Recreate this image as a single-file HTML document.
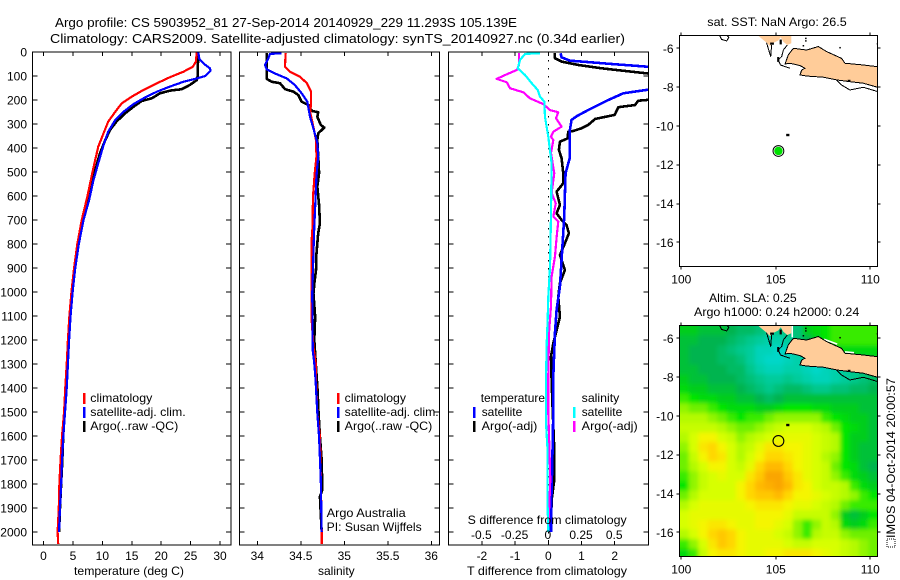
<!DOCTYPE html>
<html>
<head>
<meta charset="utf-8">
<title>Argo profile 5903952_81</title>
<style>
html,body{margin:0;padding:0;background:#fff;width:900px;height:580px;overflow:hidden}
svg{display:block}
text{font-family:"Liberation Sans",sans-serif;font-size:12px;fill:#000}
.t13{font-size:13px}
</style>
</head>
<body>
<svg id="chart" xmlns="http://www.w3.org/2000/svg" width="900" height="580" viewBox="0 0 900 580">
<defs>
<clipPath id="clip-p1"><rect x="32" y="52" width="199" height="493"/></clipPath>
<clipPath id="clip-p2"><rect x="239" y="52" width="200" height="493"/></clipPath>
<clipPath id="clip-p3"><rect x="448" y="52" width="200" height="493"/></clipPath>
<clipPath id="clip-m1"><rect x="679" y="35" width="199" height="232"/></clipPath>
<clipPath id="clip-m2"><rect x="679" y="325" width="199" height="232"/></clipPath>
<filter id="heat-blur" filterUnits="userSpaceOnUse" x="640" y="290" width="260" height="290"><feGaussianBlur stdDeviation="2.2"/></filter>
</defs>
<rect x="0" y="0" width="900" height="580" fill="#fff"/>

<text class="t13" x="55" y="27" textLength="462" lengthAdjust="spacingAndGlyphs">Argo profile: CS 5903952_81 27-Sep-2014 20140929_229 11.293S 105.139E</text>
<text class="t13" x="50" y="43" textLength="575" lengthAdjust="spacingAndGlyphs">Climatology: CARS2009. Satellite-adjusted climatology: synTS_20140927.nc (0.34d earlier)</text>

<g id="p1"></g>
<g id="p2"></g>
<g id="p3"></g>
<g id="m1"></g>
<g id="m2"></g>

<text x="74" y="575" textLength="110" lengthAdjust="spacingAndGlyphs">temperature (deg C)</text>
<text x="318" y="575">salinity</text>
<text x="467.7" y="524" textLength="159" lengthAdjust="spacingAndGlyphs">S difference from climatology</text>
<text x="467" y="575" textLength="160" lengthAdjust="spacingAndGlyphs">T difference from climatology</text>

<g>
<rect x="83" y="393" width="2.5" height="11" fill="#f00"/>
<text x="90.3" y="402" textLength="62" lengthAdjust="spacingAndGlyphs">climatology</text>
<rect x="83" y="407" width="2.5" height="11" fill="#00f"/>
<text x="90.3" y="416" textLength="95.4" lengthAdjust="spacingAndGlyphs">satellite-adj. clim.</text>
<rect x="83" y="421" width="2.5" height="11" fill="#000"/>
<text x="90.3" y="430" textLength="88" lengthAdjust="spacingAndGlyphs">Argo(..raw -QC)</text>
</g>

<g>
<rect x="337" y="393" width="2.5" height="11" fill="#f00"/>
<text x="344.7" y="402" textLength="61.3" lengthAdjust="spacingAndGlyphs">climatology</text>
<rect x="337" y="407" width="2.5" height="11" fill="#00f"/>
<text x="344.7" y="416" textLength="94" lengthAdjust="spacingAndGlyphs">satellite-adj. clim.</text>
<rect x="337" y="421" width="2.5" height="11" fill="#000"/>
<text x="344.7" y="430" textLength="87.6" lengthAdjust="spacingAndGlyphs">Argo(..raw -QC)</text>
<text x="326.7" y="517" textLength="79" lengthAdjust="spacingAndGlyphs">Argo Australia</text>
<text x="326.7" y="531" textLength="95" lengthAdjust="spacingAndGlyphs">PI: Susan Wijffels</text>
</g>

<g>
<text x="480.7" y="402" textLength="64.3" lengthAdjust="spacingAndGlyphs">temperature</text>
<text x="581.7" y="402" textLength="37.6" lengthAdjust="spacingAndGlyphs">salinity</text>
<rect x="473" y="407" width="2.5" height="11" fill="#00f"/>
<text x="481.7" y="416" textLength="40.6" lengthAdjust="spacingAndGlyphs">satellite</text>
<rect x="473" y="421" width="2.5" height="11" fill="#000"/>
<text x="481.7" y="430" textLength="55.6" lengthAdjust="spacingAndGlyphs">Argo(-adj)</text>
<rect x="573" y="407" width="2.5" height="11" fill="#0ff"/>
<text x="581.7" y="416" textLength="40.6" lengthAdjust="spacingAndGlyphs">satellite</text>
<rect x="573" y="421" width="2.5" height="11" fill="#f0f"/>
<text x="581.7" y="430" textLength="56" lengthAdjust="spacingAndGlyphs">Argo(-adj)</text>
</g>

<text x="707.3" y="26" textLength="139.4" lengthAdjust="spacingAndGlyphs">sat. SST: NaN Argo: 26.5</text>
<text x="709" y="302" textLength="87.7" lengthAdjust="spacingAndGlyphs">Altim. SLA: 0.25</text>
<text x="694" y="316" textLength="165.3" lengthAdjust="spacingAndGlyphs">Argo h1000: 0.24 h2000: 0.24</text>

<rect x="887" y="539" width="8" height="8" fill="#fff" stroke="#000" stroke-width="1" stroke-dasharray="1 1"/>
<text transform="translate(895,538) rotate(-90)" textLength="160" lengthAdjust="spacingAndGlyphs">IMOS 04-Oct-2014 20:00:57</text>

<script>
// ---------- axis tick values ----------
const depthTicks = [0,100,200,300,400,500,600,700,800,900,1000,1100,1200,1300,1400,1500,1600,1700,1800,1900,2000];
const tempTicks = [0,5,10,15,20,25,30];
const salTicks = [34,34.5,35,35.5,36];
const tDiffTicks = [-2,-1,0,1,2];
const sDiffTicks = [-0.5,-0.25,0,0.25,0.5];
const lonTicks = [100,105,110];
const latTicks = [-6,-8,-10,-12,-14,-16];

// ---------- temperature profiles (deg C vs depth m) ----------
const argoTempDepth = [0,100,117,137,155,161,172,193,204,228,255,290,325,367,422,492,575,617,700,800,900,1000,1100,1200,1300,1400,1500,1600,1700,1800,1900,2000];
const argoTemp = [26.3,26.2,26.05,24.9,23.5,21.5,19.8,18.4,16.7,15.3,13.9,12.4,11.3,10.5,9.6,8.8,7.9,7.45,6.6,5.9,5.3,4.85,4.55,4.3,4.1,3.9,3.6,3.35,3.2,3.0,2.8,2.65];
const climTempDepth = [0,40,61,82,105,130,158,186,214,249,290,339,395,492,603,700,800,900,1000,1100,1200,1300,1400,1500,1600,1700,1800,1900,2000,2050];
const climTemp = [26.05,25.9,25.4,23.8,21.5,19.3,17,15,13.3,12.2,11,10.2,9.3,8.4,7.45,6.5,5.75,5.2,4.75,4.4,4.15,3.95,3.7,3.5,3.15,2.9,2.7,2.6,2.4,2.5];
const satTempDepth = [0,30,50,68,78,100,110,124,144,165,193,217,249,283,332,380,464,533,617,700,800,900,1000,1100,1200,1300,1400,1500,1600,1700,1800,1900,2000];
const satTemp = [26.3,26.5,27.3,28.3,28.4,27.5,26.05,23.8,21.5,19.3,17,15.3,13.6,12.2,11,10.3,9.3,8.5,7.75,6.8,6.0,5.4,4.95,4.6,4.35,4.15,3.95,3.66,3.37,3.15,3,2.8,2.64];

// ---------- salinity profiles ----------
const argoSalDepth = [5,112,124,130,155,165,179,207,221,245,251,270,304,315,339,367,464,505,561,637,714,755,840,908,950,1005,1103,1200,1312,1422,1478,1603,1700,1825,1853,2000];
const argoSal = [34.108,34.108,34.165,34.26,34.32,34.414,34.47,34.51,34.586,34.625,34.70,34.69,34.73,34.77,34.70,34.69,34.705,34.71,34.69,34.71,34.72,34.70,34.68,34.675,34.66,34.645,34.665,34.655,34.675,34.695,34.70,34.72,34.74,34.747,34.72,34.74];
const climSalDepth = [5,61,82,103,130,165,207,255,304,367,436,505,603,728,783,880,1117,1228,1304,1367,1505,1603,1783,1992,2050];
const climSal = [34.326,34.318,34.376,34.49,34.57,34.617,34.617,34.61,34.64,34.675,34.68,34.66,34.64,34.635,34.625,34.625,34.625,34.645,34.675,34.675,34.69,34.72,34.73,34.74,34.74];
const satSalDepth = [5,8,26,54,72,89,110,137,172,207,270,318,380,436,519,630,728,840,1005,1242,1297,1367,1505,1603,1783,2000];
const satSal = [34.28,34.146,34.127,34.088,34.108,34.2,34.338,34.43,34.51,34.575,34.606,34.645,34.69,34.70,34.68,34.667,34.655,34.645,34.632,34.637,34.655,34.67,34.69,34.71,34.73,34.74];

// ---------- differences from climatology ----------
const tArgoDepth = [5,26,40,54,68,79,89,95,130,170,200,203,221,230,262,279,304,318,329,332,360,374,408,443,505,547,582,637,672,700,721,755,797,846,908,963,1020,1103,1214,1270,1367,1450,1658,1783,1867,1992];
const tArgoDiff = [0.2,0.2,0.4,0.9,1.61,2.31,2.96,3.5,7,5,2.96,2.71,2.61,2.11,2.0,1.41,1.2,1.0,0.75,0.6,0.58,0.35,0.32,0.4,0.45,0.45,0.25,0.35,0.25,0.4,0.55,0.62,0.5,0.35,0.5,0.35,0.3,0.35,0.15,0.08,0.1,0.12,0.18,0.18,0.1,0.08];
const tSatDepth = [5,22,36,42,50,61,70,100,130,158,172,203,242,267,283,325,380,440,505,686,978,1075,1172,1353,1505,1714,1922,2000];
const tSatDiff = [0.37,0.4,0.65,1.2,1.91,2.96,3.6,5,4,2.96,2.26,1.76,1.2,0.86,0.7,0.65,0.65,0.65,0.52,0.48,0.35,0.25,0.2,0.15,0.15,0.12,0.08,0.08];
const sSatDepth = [5,8,33,68,96,130,158,186,207,270,353,464,686,895,1020,1117,1214,1353,1547,1645,1853,2000];
const sSatDiff = [-0.0625,-0.175,-0.213,-0.23,-0.175,-0.125,-0.08,-0.0625,-0.03,-0.025,0,0.025,0.02,0.013,0,-0.005,-0.012,-0.017,-0.017,-0.007,-0.007,0];
const sArgoDepth = [5,54,75,93,112,126,151,168,193,217,242,251,276,311,332,353,367,421,505,588,630,686,707,770,853,936,1061,1172,1353,1505,1645,1783,1922,2000];
const sArgoDiff = [-0.22,-0.22,-0.238,-0.313,-0.389,-0.313,-0.288,-0.188,-0.138,-0.038,0.013,0.075,0.058,0.1,0.038,0.02,0.038,0.02,0.045,0.025,0.056,0.038,0.075,0.063,0.05,0.025,0.02,0.005,0,0,0.008,0.015,0.005,0];

// ---------- float position ----------
const floatLon = 105.139;
const floatLat = -11.293;

// ---------- coastline, lon/lat pairs ----------
const sumatraLon = [104.02,104.51,104.69,104.90,105.13,105.26,105.40,105.61,105.82,105.82];
const sumatraLat = [-5.31,-5.71,-5.88,-5.71,-5.60,-5.43,-5.66,-5.83,-5.74,-5.31];
const javaLon = [105.93,106.63,107.25,107.69,108.48,108.66,109.63,110.39,110.39,109.63,108.92,108.22,107.51,106.63,106.28,106.37,106.54,106.28,105.75,105.49,105.66];
const javaLat = [-6.00,-6.09,-5.91,-6.17,-6.52,-6.77,-6.86,-6.95,-8.01,-7.80,-7.72,-7.63,-7.49,-7.43,-7.37,-7.12,-7.03,-6.89,-6.77,-6.81,-6.34];
const southCoastLon = [108.22,108.48,108.92,109.63,110.39];
const southCoastLat = [-7.65,-7.89,-8.15,-8.01,-8.23];
const straitWestLon = [104.51,104.73,104.78];
const straitWestLat = [-5.71,-6.43,-5.83];
const straitEastLon = [105.61,105.40,105.31,105.13,105.25,105.75];
const straitEastLat = [-5.83,-6.09,-6.43,-6.60,-6.86,-7.03];
const smallIslandLon = [102.01,102.13,102.40,102.52,102.36];
const smallIslandLat = [-5.31,-5.54,-5.62,-5.43,-5.31];
const christmasLon = [105.55,105.72];
const christmasLat = [-10.47,-10.47];
const blobLon = [[104.70,104.90],[105.26,105.26],[105.13,105.13],[108.80,108.95]];
const blobLat = [[-5.76,-5.76],[-5.55,-5.80],[-6.45,-6.70],[-7.68,-7.68]];
const isletLon = [106.55,106.55,106.42,108.36,110.34];
const isletLat = [-5.45,-5.58,-5.83,-5.93,-5.73];
const fringeLon = [[107.55,108.25],[108.66,109.14],[105.87,105.87]];
const fringeLat = [[-6.05,-6.30],[-6.70,-6.74],[-5.31,-5.95]];

// ---------- sea level anomaly grid (cm), rows north to south, columns west to east ----------
const slaLon0 = 100.15;
const slaLat0 = -5.6;
const slaStep = 0.5;
const slaGrid = [
[14,14,13,13,13,12,11,11,10,9,9,10,10,14,15,16,17,17,17,17,17],
[13,13,12,12,12,11,10,9,8,7,7,8,10,12,14,16,17,17,17,17,17],
[13,12,12,12,11,10,9,8,6,6,5,6,8,9,10,12,14,15,15,15,15],
[13,12,12,12,11,11,10,8,6,5,5,6,7,8,9,10,11,13,13,13,14],
[13,13,12,12,12,11,11,9,7,6,6,7,7,6,5,6,7,8,9,10,11],
[14,13,13,12,12,12,11,10,9,8,8,9,8,7,6,6,7,8,9,10,11],
[15,14,14,13,13,13,12,11,10,9,10,11,11,10,9,9,10,10,11,11,12],
[17,16,15,15,14,14,13,13,12,11,12,13,13,13,13,13,13,13,13,13,13],
[19,18,18,17,16,15,15,15,14,14,15,16,16,16,15,15,14,14,14,13,13],
[20,20,20,19,18,17,16,17,17,18,19,19,19,19,19,17,16,15,14,14,13],
[21,21,21,21,20,19,18,18,19,20,21,22,22,22,21,20,18,16,15,14,13],
[20,22,24,24,22,21,19,20,21,22,23,23,23,23,22,21,20,16,14,14,13],
[19,22,25,26,24,22,20,21,23,25,25,24,24,23,22,21,20,16,14,13,13],
[18,21,24,26,25,22,20,22,24,26,26,25,24,23,22,20,19,16,14,13,13],
[18,20,22,24,24,22,21,23,26,28,28,26,24,23,22,21,18,16,15,13,12],
[17,19,21,22,23,22,22,25,27,30,30,27,25,23,22,21,19,17,15,14,13],
[16,19,21,22,22,22,24,26,28,29,30,28,25,24,22,21,21,20,17,15,14],
[18,20,22,22,22,22,24,26,27,27,28,26,24,24,23,22,21,20,19,17,16],
[20,22,23,23,23,23,23,24,25,25,25,24,23,23,22,21,20,18,17,17,17],
[22,23,23,23,23,23,23,23,24,24,24,23,21,21,21,21,19,14,13,14,16],
[22,23,24,25,25,24,23,23,24,24,23,22,19,17,19,21,20,15,14,15,17],
[20,22,24,26,27,26,24,23,23,23,22,21,19,17,20,21,21,19,18,18,18],
[17,19,22,25,27,26,24,23,23,23,23,22,21,21,22,22,22,21,20,19,18],
[15,17,21,24,25,25,24,23,23,24,24,25,25,25,24,23,22,21,20,19,18]
];
const slaColorValues = [5,9,12,14,16,18,20,22,24,26,28,30];
const slaColorReds = [0,0,0,0,0,110,180,215,245,255,255,250];
const slaColorGreens = [215,200,180,205,230,240,250,255,245,215,185,165];
const slaColorBlues = [200,140,80,30,0,0,0,0,0,0,0,0];

// ---------- helpers ----------
const SVGNS = 'http://www.w3.org/2000/svg';
function linear(d0, r0, d1, r1) {
  return function (v) { return r0 + (v - d0) * (r1 - r0) / (d1 - d0); };
}
function mk(parent, tag, name, attrs) {
  const el = document.createElementNS(SVGNS, tag);
  
  
  for (const k in attrs) el.setAttribute(k, attrs[k]);
  parent.appendChild(el);
  return el;
}
function label(parent, name, str, x, y, anchor) {
  const el = mk(parent, 'text', name, { x: x, y: y, 'text-anchor': anchor });
  el.textContent = str;
  return el;
}
function ptsOf(xs, ys, fx, fy) {
  return xs.map(function (v, i) { return fx(v).toFixed(2) + ',' + fy(ys[i]).toFixed(2); }).join(' ');
}
function tickLine(parent, name, x1, y1, x2, y2) {
  mk(parent, 'line', name, { x1: x1, y1: y1, x2: x2, y2: y2, stroke: '#000', 'stroke-width': 1, 'shape-rendering': 'crispEdges' });
}
const depthY = linear(0, 52, 2000, 532);

function drawProfile(parent, name, values, depths, xf, color, width) {
  mk(parent, 'polyline', name, {
    points: ptsOf(values, depths, xf, depthY),
    fill: 'none', stroke: color, 'stroke-width': width,
    'stroke-linejoin': 'round', 'shape-rendering': 'crispEdges'
  });
}
function drawPanelFrame(parent, L, R, T, B, xTicksPx) {
  mk(parent, 'rect', 'plot-frame', { x: L, y: T, width: R - L, height: B - T, fill: 'none', stroke: '#000', 'stroke-width': 1.2, 'shape-rendering': 'crispEdges' });
  depthTicks.forEach(function (d) {
    const y = Math.round(depthY(d));
    tickLine(parent, 'depth-tick-left', L, y, L + 5, y);
    tickLine(parent, 'depth-tick-right', R - 5, y, R, y);
  });
  xTicksPx.forEach(function (x) {
    tickLine(parent, 'x-tick-top', x, T, x, T + 4);
    tickLine(parent, 'x-tick-bottom', x, B - 4, x, B);
  });
}

// ---------- panel 1: temperature ----------
const tempX = linear(0, 43.5, 30, 220);
const p1 = document.getElementById('p1');
const p1lines = mk(p1, 'g', 'temperature-series', { 'clip-path': 'url(#clip-p1)' });
drawProfile(p1lines, 'argo-temperature-line', argoTemp, argoTempDepth, tempX, '#000', 2.6);
drawProfile(p1lines, 'climatology-temperature-line', climTemp, climTempDepth, tempX, '#f00', 2.2);
drawProfile(p1lines, 'satellite-temperature-line', satTemp, satTempDepth, tempX, '#00f', 2.2);
drawPanelFrame(p1, 32.5, 231, 52, 545, tempTicks.map(tempX));
depthTicks.forEach(function (d) {
  label(p1, 'depth-tick-label', String(d), 27, depthY(d) + 4.5, 'end');
});
tempTicks.forEach(function (t) {
  label(p1, 'temperature-tick-label', String(t), tempX(t), 560, 'middle');
});

// ---------- panel 2: salinity ----------
const salX = linear(34, 257.3, 36, 431.3);
const p2 = document.getElementById('p2');
const p2lines = mk(p2, 'g', 'salinity-series', { 'clip-path': 'url(#clip-p2)' });
drawProfile(p2lines, 'argo-salinity-line', argoSal, argoSalDepth, salX, '#000', 2.6);
drawProfile(p2lines, 'climatology-salinity-line', climSal, climSalDepth, salX, '#f00', 2.2);
drawProfile(p2lines, 'satellite-salinity-line', satSal, satSalDepth, salX, '#00f', 2.2);
drawPanelFrame(p2, 239.5, 439.5, 52, 545, salTicks.map(salX));
salTicks.forEach(function (s) {
  label(p2, 'salinity-tick-label', String(s), salX(s), 560, 'middle');
});

// ---------- panel 3: differences ----------
const tDiffX = linear(0, 548.3, 2, 614.7);
const sDiffX = linear(0, 548.3, 0.5, 614.7);
const p3 = document.getElementById('p3');
mk(p3, 'line', 'zero-difference-line', { x1: 548.5, y1: 52, x2: 548.5, y2: 545, stroke: '#000', 'stroke-width': 1.4, 'stroke-dasharray': '1.5 6.5', 'shape-rendering': 'crispEdges' });
const p3lines = mk(p3, 'g', 'difference-series', { 'clip-path': 'url(#clip-p3)' });
drawProfile(p3lines, 'argo-t-difference-line', tArgoDiff, tArgoDepth, tDiffX, '#000', 2.6);
drawProfile(p3lines, 'satellite-t-difference-line', tSatDiff, tSatDepth, tDiffX, '#00f', 2.6);
drawProfile(p3lines, 'argo-s-difference-line', sArgoDiff, sArgoDepth, sDiffX, '#f0f', 2.2);
drawProfile(p3lines, 'satellite-s-difference-line', sSatDiff, sSatDepth, sDiffX, '#0ff', 2.2);
drawPanelFrame(p3, 448.5, 648.5, 52, 545, tDiffTicks.map(tDiffX));
tDiffTicks.forEach(function (t) {
  label(p3, 't-difference-tick-label', String(t), tDiffX(t), 560, 'middle');
});
sDiffTicks.forEach(function (s) {
  label(p3, 's-difference-tick-label', String(s), sDiffX(s) - 0.5, 539, 'middle');
});

// ---------- maps ----------
const lonX = linear(100, 681.3, 110, 870.3);

function slaColor(v) {
  const vs = slaColorValues;
  let i = 0;
  while (i < vs.length - 2 && v > vs[i + 1]) i++;
  const f = Math.max(0, Math.min(1, (v - vs[i]) / (vs[i + 1] - vs[i])));
  const c = function (a) { return Math.round(a[i] + (a[i + 1] - a[i]) * f); };
  return 'rgb(' + c(slaColorReds) + ',' + c(slaColorGreens) + ',' + c(slaColorBlues) + ')';
}
function drawHeat(parent, latY) {
  const clip = mk(parent, 'g', 'sla-heatmap-clip', { 'clip-path': 'url(#clip-m2)' });
  const g = mk(clip, 'g', 'sla-heatmap', { filter: 'url(#heat-blur)' });
  const rows = slaGrid.length;
  slaGrid.forEach(function (row, j) {
    row.forEach(function (v, i) {
      const lon = slaLon0 + i * slaStep;
      const lat = slaLat0 - j * slaStep;
      let x0 = lonX(lon - slaStep / 2);
      let x1 = lonX(lon + slaStep / 2);
      let y0 = latY(lat + slaStep / 2);
      let y1 = latY(lat - slaStep / 2);
      if (i === 0) x0 -= 14;
      if (i === row.length - 1) x1 += 14;
      if (j === 0) y0 -= 14;
      if (j === rows - 1) y1 += 14;
      mk(g, 'rect', 'sla-cell', { x: x0, y: y0, width: x1 - x0 + 0.5, height: y1 - y0 + 0.5, fill: slaColor(v) });
    });
  });
}
function drawCoast(parent, latY, clipId, withFringe) {
  const g = mk(parent, 'g', 'coastline', { 'clip-path': 'url(#' + clipId + ')' });
  const land = { fill: '#ffcc99', stroke: 'none' };
  const a = mk(g, 'polygon', 'sumatra-land', land);
  a.setAttribute('points', ptsOf(sumatraLon, sumatraLat, lonX, latY));
  const b = mk(g, 'polygon', 'java-land', land);
  b.setAttribute('points', ptsOf(javaLon, javaLat, lonX, latY));
  if (withFringe) {
    fringeLon.forEach(function (xs, k) {
      mk(g, 'polyline', 'coast-fringe', { points: ptsOf(xs, fringeLat[k], lonX, latY), fill: 'none', stroke: '#fff', 'stroke-width': 1.6 });
    });
  }
  const ln = { fill: 'none', stroke: '#000', 'stroke-width': 1, 'shape-rendering': 'crispEdges' };
  mk(g, 'polygon', 'java-coast', Object.assign({ points: ptsOf(javaLon, javaLat, lonX, latY) }, ln));
  mk(g, 'polyline', 'java-south-coast', Object.assign({ points: ptsOf(southCoastLon, southCoastLat, lonX, latY) }, ln));
  mk(g, 'polyline', 'strait-west-coast', Object.assign({ points: ptsOf(straitWestLon, straitWestLat, lonX, latY) }, ln));
  mk(g, 'polyline', 'strait-east-coast', Object.assign({ points: ptsOf(straitEastLon, straitEastLat, lonX, latY) }, ln));
  mk(g, 'polygon', 'small-island', Object.assign({ points: ptsOf(smallIslandLon, smallIslandLat, lonX, latY) }, ln));
  mk(g, 'polyline', 'christmas-island', { points: ptsOf(christmasLon, christmasLat, lonX, latY), fill: 'none', stroke: '#000', 'stroke-width': 2.4 });
  blobLon.forEach(function (xs, k) {
    mk(g, 'polyline', 'coast-detail', { points: ptsOf(xs, blobLat[k], lonX, latY), fill: 'none', stroke: '#000', 'stroke-width': 2.2 });
  });
  isletLon.forEach(function (x, k) {
    mk(g, 'rect', 'islet', { x: lonX(x), y: latY(isletLat[k]), width: 1.5, height: 1.5, fill: '#000' });
  });
}
function drawMapAxes(parent, latY, T, B, L, R) {
  mk(parent, 'rect', 'map-frame', { x: L, y: T, width: R - L, height: B - T, fill: 'none', stroke: '#000', 'stroke-width': 1, 'shape-rendering': 'crispEdges' });
  lonTicks.forEach(function (lon) {
    const x = Math.round(lonX(lon));
    tickLine(parent, 'longitude-tick-top', x, T - 3, x, T);
    tickLine(parent, 'longitude-tick-bottom', x, B, x, B + 3);
    label(parent, 'longitude-tick-label', String(lon), lonX(lon), B + 17, 'middle');
  });
  latTicks.forEach(function (lat) {
    const y = Math.round(latY(lat));
    tickLine(parent, 'latitude-tick-left', L - 3, y, L, y);
    tickLine(parent, 'latitude-tick-right', R, y, R + 3, y);
    label(parent, 'latitude-tick-label', String(lat), 673.5, latY(lat) + 4.5, 'end');
  });
}

const m1 = document.getElementById('m1');
const latY1 = linear(-6, 48.3, -16, 242.3);
drawCoast(m1, latY1, 'clip-m1', false);
mk(m1, 'circle', 'float-position-marker', { cx: lonX(floatLon), cy: latY1(floatLat), r: 4.2, fill: '#00e000', stroke: 'none' });
mk(m1, 'circle', 'float-position-ring', { cx: lonX(floatLon), cy: latY1(floatLat), r: 5.4, fill: 'none', stroke: '#000', 'stroke-width': 1 });
drawMapAxes(m1, latY1, 35.5, 266.5, 679.5, 877.5);

const m2 = document.getElementById('m2');
const latY2 = linear(-6, 338.3, -16, 532.3);
drawHeat(m2, latY2);
drawCoast(m2, latY2, 'clip-m2', true);
mk(m2, 'circle', 'float-position-ring', { cx: lonX(floatLon), cy: latY2(floatLat), r: 5.4, fill: 'none', stroke: '#000', 'stroke-width': 1.1 });
drawMapAxes(m2, latY2, 325.5, 556.5, 679.5, 877.5);
</script>
</svg>
</body>
</html>
